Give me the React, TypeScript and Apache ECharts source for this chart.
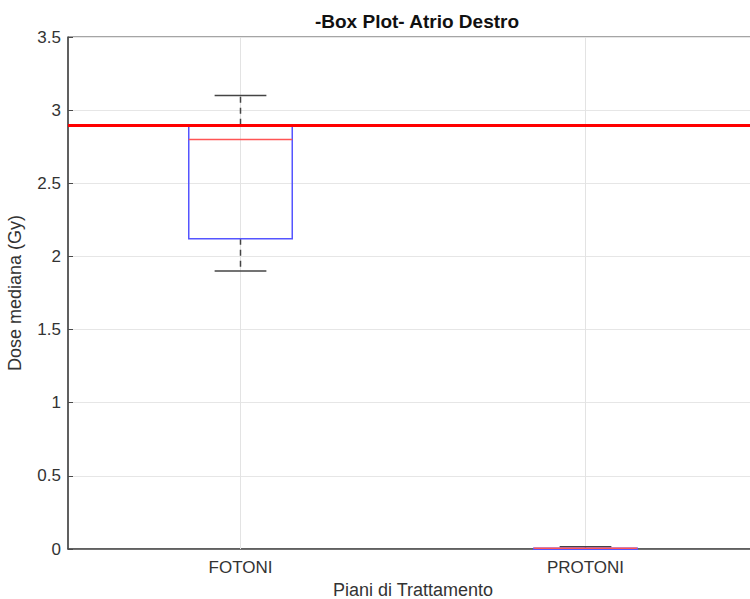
import React, { useEffect, useRef } from "react";
import * as echarts from "echarts";

const categories = ["FOTONI", "PROTONI"];
const lowerWhisker = [1.9, 0];
const q1 = [2.12, 0];
const median = [2.8, 0.005];
const q3 = [2.9, 0.005];
const upperWhisker = [3.1, 0.015];
const referenceDose = 2.9;
const yTicks = { min: 0, max: 3.5, interval: 0.5 };

export default function App() {
  const ref = useRef<HTMLDivElement>(null);
  useEffect(() => {
    const chart = echarts.init(ref.current!, null, { renderer: "svg" });
    const boxData = categories.map((c, i) => [i, lowerWhisker[i], q1[i], median[i], q3[i], upperWhisker[i]]);
    const font = "Liberation Sans";
    chart.setOption({
      animation: false,
      backgroundColor: "#ffffff",
      title: {
        text: "-Box Plot- Atrio Destro",
        left: 412,
        top: 7,
        textAlign: "center",
        textStyle: { fontFamily: font, fontSize: 19, fontWeight: "bold", color: "#111" },
      },
      grid: {
        left: 68,
        width: 690,
        top: 37,
        height: 512,
        outerBoundsMode: "none",
        containLabel: false,
        show: true,
        borderColor: "#4a4a4a",
        borderWidth: 1,
        backgroundColor: "transparent",
      },
      xAxis: [
        {
          type: "category",
          data: categories,
          boundaryGap: true,
          name: "Piani di Trattamento",
          nameLocation: "middle",
          nameGap: 30,
          nameTextStyle: { fontFamily: font, fontSize: 18, color: "#333" },
          axisLine: { lineStyle: { color: "#4a4a4a", width: 1.5 } },
          axisTick: { show: true, inside: true, alignWithLabel: true, length: 5, lineStyle: { color: "#4a4a4a" } },
          axisLabel: { fontFamily: font, fontSize: 17, color: "#333", margin: 10 },
          splitLine: { show: false },
        },
        {
          type: "category",
          data: categories,
          position: "top",
          boundaryGap: true,
          axisLine: { show: false },
          axisTick: { show: true, inside: true, alignWithLabel: true, length: 5, lineStyle: { color: "#4a4a4a" } },
          axisLabel: { show: false },
          splitLine: { show: false },
        },
      ],
      yAxis: {
        type: "value",
        min: yTicks.min,
        max: yTicks.max,
        interval: yTicks.interval,
        name: "Dose mediana (Gy)",
        nameLocation: "middle",
        nameGap: 44,
        nameTextStyle: { fontFamily: font, fontSize: 18, color: "#333" },
        axisLine: { show: true, lineStyle: { color: "#4a4a4a", width: 1.5 } },
        axisTick: { show: true, inside: true, length: 5, lineStyle: { color: "#4a4a4a" } },
        axisLabel: { fontFamily: font, fontSize: 17, color: "#333", margin: 7 },
        splitLine: { show: true, lineStyle: { color: "#e6e6e6", width: 1 } },
      },
      series: [
        {
          type: "custom",
          xAxisIndex: 0,
          encode: { x: 0, y: [1, 2, 3, 4, 5] },
          data: boxData,
          z: 5,
          markLine: {
            silent: true,
            symbol: "none",
            label: { show: false },
            z: 1,
            lineStyle: { color: "#e3e3e3", width: 1, type: "solid" },
            data: categories.map((c) => ({ xAxis: c })),
          },
          renderItem: (params: any, api: any) => {
            const idx = api.value(0);
            const bw = api.size([1, 0])[0] * 0.3;
            const cw = bw / 2;
            const pLow = api.coord([idx, api.value(1)]);
            const pQ1 = api.coord([idx, api.value(2)]);
            const pMed = api.coord([idx, api.value(3)]);
            const pQ3 = api.coord([idx, api.value(4)]);
            const pHigh = api.coord([idx, api.value(5)]);
            const x = pQ1[0];
            const whiskerStyle = { stroke: "#444", lineWidth: 1.5, lineDash: [6, 5] };
            const capStyle = { stroke: "#444", lineWidth: 1.5 };
            return {
              type: "group",
              children: [
                { type: "line", shape: { x1: x, y1: pQ3[1], x2: x, y2: pHigh[1] }, style: whiskerStyle },
                { type: "line", shape: { x1: x, y1: pQ1[1], x2: x, y2: pLow[1] }, style: whiskerStyle },
                { type: "line", shape: { x1: x - cw / 2, y1: pHigh[1], x2: x + cw / 2, y2: pHigh[1] }, style: capStyle },
                { type: "line", shape: { x1: x - cw / 2, y1: pLow[1], x2: x + cw / 2, y2: pLow[1] }, style: capStyle },
                {
                  type: "rect",
                  shape: { x: x - bw / 2, y: pQ3[1], width: bw, height: Math.max(pQ1[1] - pQ3[1], 1) },
                  style: { fill: "none", stroke: "#5555ff", lineWidth: 1.5 },
                },
                {
                  type: "line",
                  shape: { x1: x - bw / 2, y1: pMed[1], x2: x + bw / 2, y2: pMed[1] },
                  style: { stroke: "#ff5555", lineWidth: 1.5 },
                },
              ],
            };
          },
        },
        {
          type: "line",
          data: [],
          markLine: {
            silent: true,
            symbol: "none",
            label: { show: false },
            z: 10,
            lineStyle: { color: "#ff0000", width: 3, type: "solid" },
            data: [{ yAxis: referenceDose }],
          },
          z: 10,
        },
      ],
    });
    return () => chart.dispose();
  }, []);
  return <div ref={ref} style={{ width: 750, height: 599, position: "absolute", left: 0, top: 0 }} />;
}
